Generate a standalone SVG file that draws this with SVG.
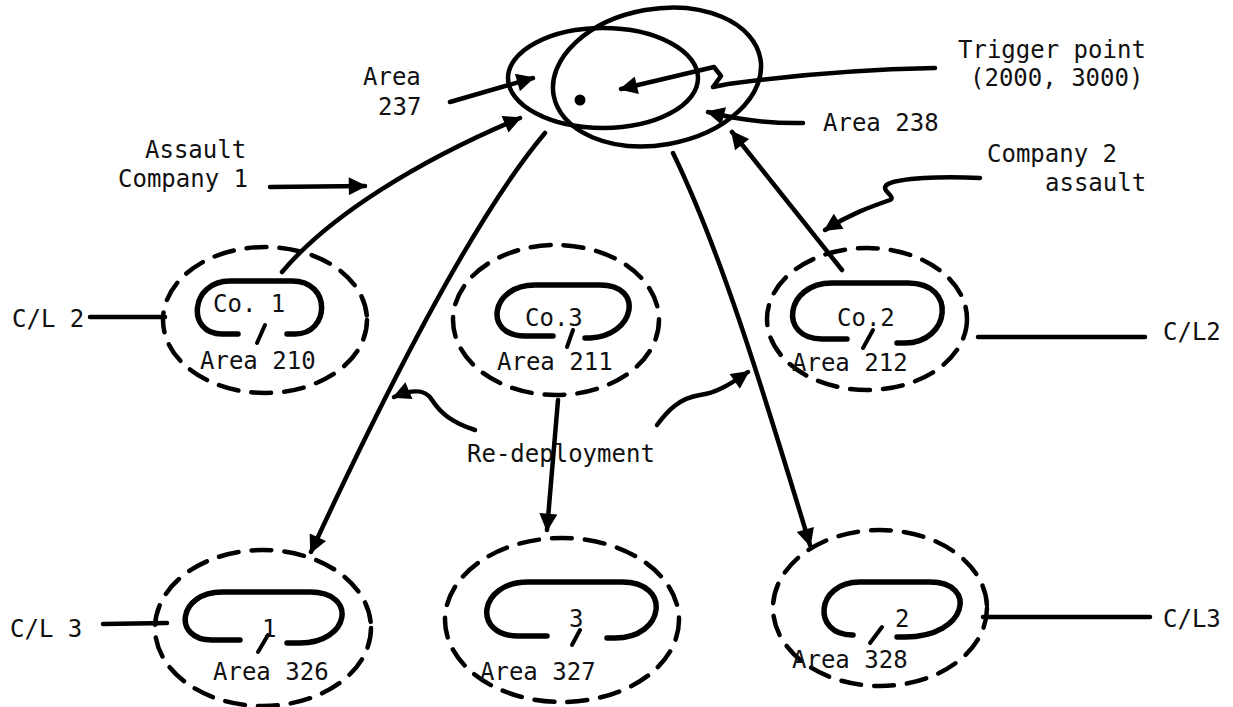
<svg xmlns="http://www.w3.org/2000/svg" width="1233" height="707" viewBox="0 0 1233 707">
<defs>
<marker id="ah" viewBox="0 0 10 10" refX="9" refY="5" markerUnits="userSpaceOnUse" markerWidth="24" markerHeight="18" orient="auto">
<path d="M0,0 L10,5 L0,10 z" fill="#000"/>
</marker>
</defs>
<style>
text{font-family:"DejaVu Sans Mono","Liberation Mono",monospace;font-size:24px;fill:#111}
.solid{fill:none;stroke:#000;stroke-width:4.5;stroke-linecap:round;stroke-linejoin:round}
.dash{fill:none;stroke:#000;stroke-width:4.5;stroke-dasharray:20 13;stroke-linecap:round}
.loop{fill:none;stroke:#000;stroke-width:5.5;stroke-linecap:round}
.tick{fill:none;stroke:#000;stroke-width:4;stroke-linecap:round}
.conn{fill:none;stroke:#000;stroke-width:4.5;stroke-linecap:round;stroke-linejoin:round}
.arr{marker-end:url(#ah)}
</style>
<rect width="1233" height="707" fill="#fff"/>

<g id="area237-238">
<ellipse class="solid" cx="603" cy="78" rx="95" ry="50"/>
<ellipse class="solid" cx="657" cy="77" rx="105" ry="68" transform="rotate(-10 657 77)"/>
<circle cx="580" cy="100" r="5.5" fill="#000"/>
<text x="363" y="85">Area</text>
<text x="378" y="115">237</text>
<text x="958" y="58">Trigger point</text>
<text x="970" y="86">(2000, 3000)</text>
<text x="823" y="131">Area 238</text>
</g>

<g id="labels">
<text x="145" y="158">Assault</text>
<text x="118" y="187">Company 1</text>
<text x="987" y="162">Company 2</text>
<text x="1045" y="191">assault</text>
<text x="467" y="462">Re-deployment</text>
<text x="12" y="327">C/L 2</text>
<text x="1163" y="340">C/L2</text>
<text x="10" y="637">C/L 3</text>
<text x="1163" y="627">C/L3</text>
</g>

<g id="node210">
<ellipse class="dash" cx="265" cy="320" rx="102" ry="73"/>
<path class="loop" d="M238,334 L222,334 C186,334 190,281 230,281 L292,281 C332,281 330,334 295,334 L287,334"/>
<line class="tick" x1="257" y1="343" x2="265" y2="325"/>
<text x="213" y="312">Co. 1</text>
<text x="200" y="369">Area 210</text>
</g>

<g id="node211">
<ellipse class="dash" cx="556" cy="320" rx="103" ry="75"/>
<path class="loop" d="M553,336 L525,336 C483,336 490,285 535,285 L600,285 C645,285 635,336 590,338 L585,338"/>
<line class="tick" x1="567" y1="347" x2="573" y2="330"/>
<text x="525" y="326">Co.3</text>
<text x="497" y="370">Area 211</text>
</g>

<g id="node212">
<ellipse class="dash" cx="867" cy="319" rx="100" ry="71"/>
<path class="loop" d="M847,339 L822,339 C778,339 785,283 832,283 L908,283 C958,283 950,343 905,343 L897,343"/>
<line class="tick" x1="863" y1="348" x2="873" y2="330"/>
<text x="837" y="326">Co.2</text>
<text x="792" y="371">Area 212</text>
</g>

<g id="node326">
<ellipse class="dash" cx="263" cy="628" rx="108" ry="78"/>
<path class="loop" d="M240,640 L212,640 C172,640 178,592 222,592 L310,592 C358,592 350,643 300,643 L287,643"/>
<line class="tick" x1="258" y1="652" x2="268" y2="635"/>
<text x="262" y="637">1</text>
<text x="213" y="680">Area 326</text>
</g>

<g id="node327">
<ellipse class="dash" cx="562" cy="620" rx="117" ry="82"/>
<path class="loop" d="M547,636 L518,636 C472,636 478,582 528,582 L622,582 C672,582 665,638 615,638 L607,638"/>
<line class="tick" x1="572" y1="645" x2="580" y2="630"/>
<text x="569" y="627">3</text>
<text x="480" y="680">Area 327</text>
</g>

<g id="node328">
<ellipse class="dash" cx="880" cy="608" rx="107" ry="78"/>
<path class="loop" d="M853,635 L852,635 C812,635 815,582 860,582 L930,582 C978,582 968,637 905,637 L897,637"/>
<line class="tick" x1="870" y1="643" x2="882" y2="627"/>
<text x="895" y="627">2</text>
<text x="792" y="668">Area 328</text>
</g>

<g id="connectors">
<path class="conn arr" d="M450,102 L533,78"/>
<path class="conn arr" d="M935,68 Q830,70 728,84 L713,87 L721,76 L714,67 L621,89"/>
<path class="conn arr" d="M803,123 Q755,124 708,112"/>
<path class="conn arr" d="M270,187 L365,186"/>
<path class="conn arr" d="M282,272 C330,215 420,160 520,118"/>
<path class="conn arr" d="M842,270 L732,132"/>
<path class="conn arr" d="M980,178 C940,176 900,178 888,184 C878,190 897,196 890,200 C870,207 850,214 825,230"/>
<path class="conn arr" d="M545,133 C480,210 400,360 311,552"/>
<path class="conn arr" d="M673,153 C720,250 760,380 810,545"/>
<path class="conn arr" d="M558,400 L547,530"/>
<path class="conn arr" d="M475,430 C450,422 440,412 432,400 C426,390 415,388 394,397"/>
<path class="conn arr" d="M657,425 C668,410 680,398 700,395 C715,393 728,386 748,372"/>
<line class="conn" x1="90" y1="317" x2="165" y2="317"/>
<line class="conn" x1="978" y1="337" x2="1145" y2="337"/>
<line class="conn" x1="103" y1="624" x2="167" y2="623"/>
<line class="conn" x1="983" y1="617" x2="1150" y2="617"/>
</g>
</svg>
